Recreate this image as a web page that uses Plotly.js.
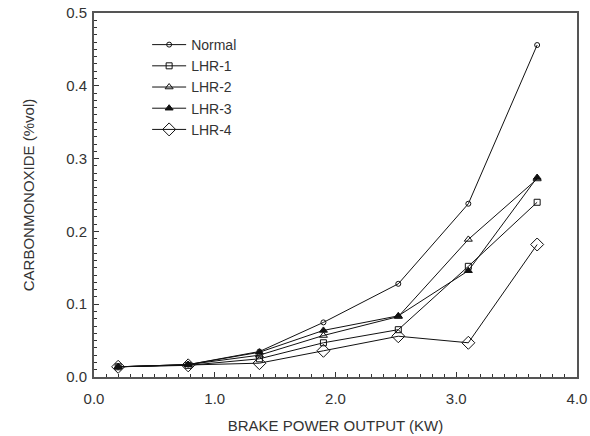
<!DOCTYPE html>
<html>
<head>
<meta charset="utf-8">
<script src="https://cdn.plot.ly/plotly-3.0.1.min.js"></script>
<style>html,body{margin:0;padding:0;background:#fff}#chart{width:590px;height:436px}</style>
</head>
<body>
<div id="chart"></div>
<script>
const brakePower = [0.2, 0.78, 1.37, 1.9, 2.52, 3.1, 3.67];
const normal = [0.014, 0.017, 0.035, 0.075, 0.128, 0.238, 0.456];
const lhr1   = [0.014, 0.016, 0.025, 0.047, 0.065, 0.152, 0.240];
const lhr2   = [0.014, 0.017, 0.030, 0.057, 0.083, 0.189, 0.272];
const lhr3   = [0.014, 0.017, 0.034, 0.064, 0.084, 0.146, 0.274];
const lhr4   = [0.014, 0.016, 0.019, 0.036, 0.056, 0.047, 0.182];
const seriesNames = ['Normal', 'LHR-1', 'LHR-2', 'LHR-3', 'LHR-4'];

const series = [normal, lhr1, lhr2, lhr3, lhr4];
const markers = [
  {symbol: 'circle-open', size: 5},
  {symbol: 'square-open', size: 6},
  {symbol: 'triangle-up-open', size: 7},
  {symbol: 'triangle-up', size: 7},
  {symbol: 'diamond-open', size: 10}
];
const traces = series.map((ys, i) => ({
  x: brakePower, y: ys, name: seriesNames[i], type: 'scatter', mode: 'lines+markers',
  line: {color: '#111', width: 1},
  marker: Object.assign({color: '#111', line: {color: '#111', width: 1}}, markers[i])
}));

const font = {family: '"Liberation Sans", Arial, sans-serif', color: '#333'};
const layout = {
  width: 590, height: 436,
  margin: {l: 94, r: 13, t: 13, b: 59},
  paper_bgcolor: '#fff', plot_bgcolor: '#fff',
  font: Object.assign({size: 14}, font),
  showlegend: true,
  legend: {x: 0.11, y: 0.956, xanchor: 'left', yanchor: 'top', bgcolor: 'rgba(0,0,0,0)',
           font: Object.assign({size: 14}, font), itemwidth: 34, tracegroupgap: 0},
  xaxis: {
    range: [0, 4], dtick: 1, tick0: 0, tickformat: '.1f',
    showgrid: false, zeroline: false,
    showline: true, linecolor: '#555', linewidth: 2, mirror: true,
    ticks: 'inside', ticklen: 5, tickcolor: '#333', tickwidth: 1,
    minor: {dtick: 0.1, ticks: 'inside', ticklen: 3, tickcolor: '#333', showgrid: false},
    tickfont: Object.assign({size: 15}, font), ticklabelstandoff: 7,
    title: {text: 'BRAKE POWER OUTPUT (KW)', font: Object.assign({size: 15}, font), standoff: 14}
  },
  yaxis: {
    range: [0, 0.5], dtick: 0.1, tick0: 0, tickformat: '.1f',
    showgrid: false, zeroline: false,
    showline: true, linecolor: '#555', linewidth: 2, mirror: true,
    ticks: 'inside', ticklen: 5, tickcolor: '#333', tickwidth: 1,
    minor: {dtick: 0.01, ticks: 'inside', ticklen: 3, tickcolor: '#333', showgrid: false},
    tickfont: Object.assign({size: 15}, font), ticklabelstandoff: 2,
    title: {text: 'CARBONMONOXIDE (%vol)', font: Object.assign({size: 15}, font), standoff: 28}
  }
};
Plotly.newPlot('chart', traces, layout, {staticPlot: true, displayModeBar: false});
</script>
</body>
</html>
